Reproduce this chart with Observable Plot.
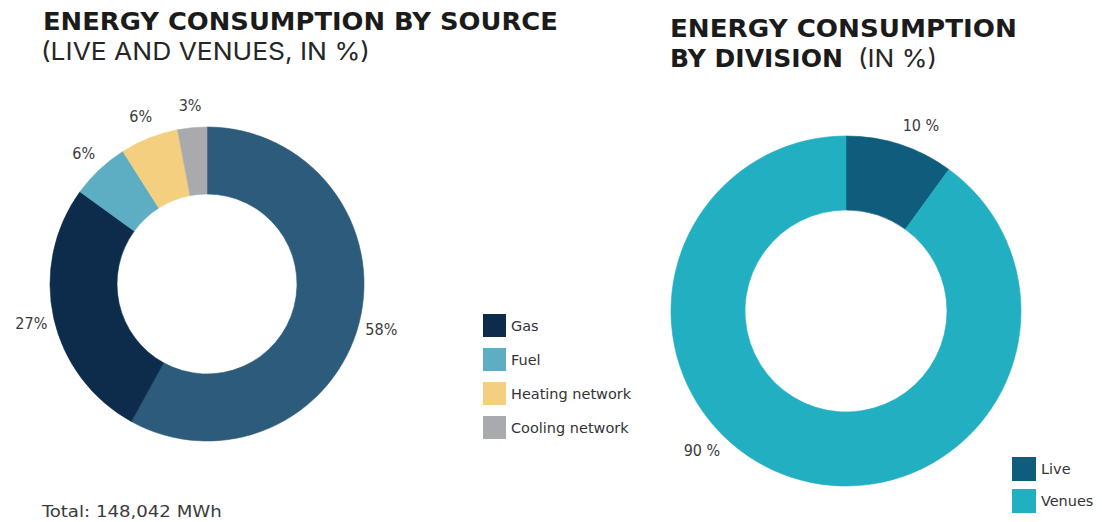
<!DOCTYPE html>
<html><head><meta charset="utf-8">
<script src="https://cdn.jsdelivr.net/npm/d3@7"></script>
<script src="https://cdn.jsdelivr.net/npm/@observablehq/plot@0.6"></script>
<style>
html,body{margin:0;padding:0;background:#fff;}
#root{position:relative;width:1102px;height:522px;overflow:hidden;background:#fff;}
#root > svg{position:absolute;}
</style></head><body><div id="root"></div>
<script>
// ---- data ----
const sourceNames  = ["Electricity", "Gas", "Fuel", "Heating network", "Cooling network"];
const sourceValues = [58, 27, 6, 6, 3];
const sourceLabels = ["58%", "27%", "6%", "6%", "3%"];
const sourceColors = ["#2d5b7b", "#0d2c4b", "#5daec3", "#f3cf7f", "#a8aaae"];
const sourceLegend = ["Gas", "Fuel", "Heating network", "Cooling network"];

const divisionNames  = ["Live", "Venues"];
const divisionValues = [10, 90];
const divisionLabels = ["10 %", "90 %"];
const divisionColors = ["#0f5c7d", "#21afc1"];
const divisionLegend = ["Live", "Venues"];

const totalText = "Total: 148,042 MWh";

// ---- drawing ----
const root = document.getElementById("root");
const LABEL_FONT = '"DejaVu Sans Condensed","DejaVu Sans",sans-serif';

function donut({names, values, labels, colors, inner, outer, labelR, nudge, width, height, cx, cy}) {
  const rows = names.map((name, i) => ({name, value: values[i], label: labels[i]}));
  return Plot.plot({
    width, height, margin: 0,
    x: {domain: [0, d3.sum(values)], range: [0, 2 * Math.PI], axis: null},
    color: {domain: names, range: colors},
    style: {background: "transparent", overflow: "visible"},
    marks: [
      Plot.barX(rows, Plot.stackX({
        x: "value", fill: "name",
        render(index, scales, ch) {
          const g = d3.create("svg:g");
          const arc = d3.arc().innerRadius(inner).outerRadius(outer);
          for (const i of index) {
            g.append("path")
              .attr("transform", `translate(${cx},${cy})`)
              .attr("d", arc({startAngle: ch.x1[i], endAngle: ch.x2[i]}))
              .attr("fill", ch.fill[i])
              .attr("stroke", ch.fill[i]).attr("stroke-width", 0.6);
          }
          return g.node();
        }
      })),
      Plot.text(rows, Plot.stackX({
        x: "value", text: "label",
        render(index, scales, ch) {
          const g = d3.create("svg:g");
          for (const i of index) {
            const a = ch.x[i] + (nudge[rows[i].name] || 0);
            g.append("text")
              .attr("x", cx + Math.sin(a) * labelR)
              .attr("y", cy - Math.cos(a) * labelR)
              .attr("dy", "0.36em")
              .attr("text-anchor", "middle")
              .attr("font-family", LABEL_FONT)
              .attr("font-size", 16)
              .attr("font-weight", 500)
              .attr("fill", "#3b3b3b")
              .text(ch.text[i]);
          }
          return g.node();
        }
      }))
    ]
  });
}

const left = donut({
  names: sourceNames, values: sourceValues, labels: sourceLabels, colors: sourceColors,
  inner: 90, outer: 157, labelR: 180, nudge: {},
  width: 460, height: 400, cx: 207, cy: 194
});
left.style.left = "0px"; left.style.top = "90px";
root.appendChild(left);

const right = donut({
  names: divisionNames, values: divisionValues, labels: divisionLabels, colors: divisionColors,
  inner: 101, outer: 175, labelR: 200, nudge: {Venues: 0.49, Live: 0.07},
  width: 440, height: 420, cx: 206, cy: 211
});
right.style.left = "640px"; right.style.top = "100px";
root.appendChild(right);

// ---- titles, legends, caption (overlay) ----
const ov = d3.select(root).append("svg")
  .attr("width", 1102).attr("height", 522)
  .style("left", "0px").style("top", "0px").style("pointer-events", "none");

// text stretched horizontally to the given width (keeps glyph height)
function txt(s, x, y, opts) {
  const t = ov.append("text").attr("x", 0).attr("y", 0).text(s)
    .attr("font-family", opts.family || '"DejaVu Sans",sans-serif')
    .attr("font-size", opts.size).attr("font-weight", opts.weight || "normal")
    .attr("fill", opts.fill || "#1b1b1b");
  if (opts.dy) t.attr("dy", opts.dy);
  let sx = opts.sx || 1;
  if (opts.len) {
    const w = t.node().getComputedTextLength();
    if (w > 0) sx = opts.len / w;
  }
  t.attr("transform", `translate(${x},${y}) scale(${sx},1)`);
  return t;
}

const SUB_FONT = 'Inter,"DejaVu Sans",sans-serif';
txt("ENERGY CONSUMPTION BY SOURCE", 43, 29.5, {size: 24, weight: "bold", len: 515});
txt("(LIVE AND VENUES, IN %)", 41, 60, {size: 24, family: SUB_FONT, fill: "#262626", len: 329});
txt("ENERGY CONSUMPTION", 670, 37, {size: 24, weight: "bold", len: 347});
txt("BY DIVISION", 670, 66.5, {size: 24, weight: "bold", len: 173});
txt("(IN %)", 858, 66.5, {size: 24, family: SUB_FONT, fill: "#262626", len: 79});
txt(totalText, 42, 517, {size: 15, family: LABEL_FONT, weight: 500, fill: "#3b3b3b", len: 180});

function legend(items, colorOf, x, y0, step, size, tx) {
  items.forEach((name, i) => {
    const y = y0 + i * step;
    ov.append("rect").attr("x", x).attr("y", y).attr("width", size).attr("height", size).attr("fill", colorOf(name));
    txt(name, tx, y + size / 2, {size: 14, family: LABEL_FONT, fill: "#333", dy: "0.36em", sx: 1.15});
  });
}
const srcColor = d3.scaleOrdinal(sourceNames, sourceColors);
const divColor = d3.scaleOrdinal(divisionNames, divisionColors);
legend(sourceLegend, srcColor, 483, 314, 34, 23, 511);
legend(divisionLegend, divColor, 1012, 457, 32, 24, 1041);
</script></body></html>
